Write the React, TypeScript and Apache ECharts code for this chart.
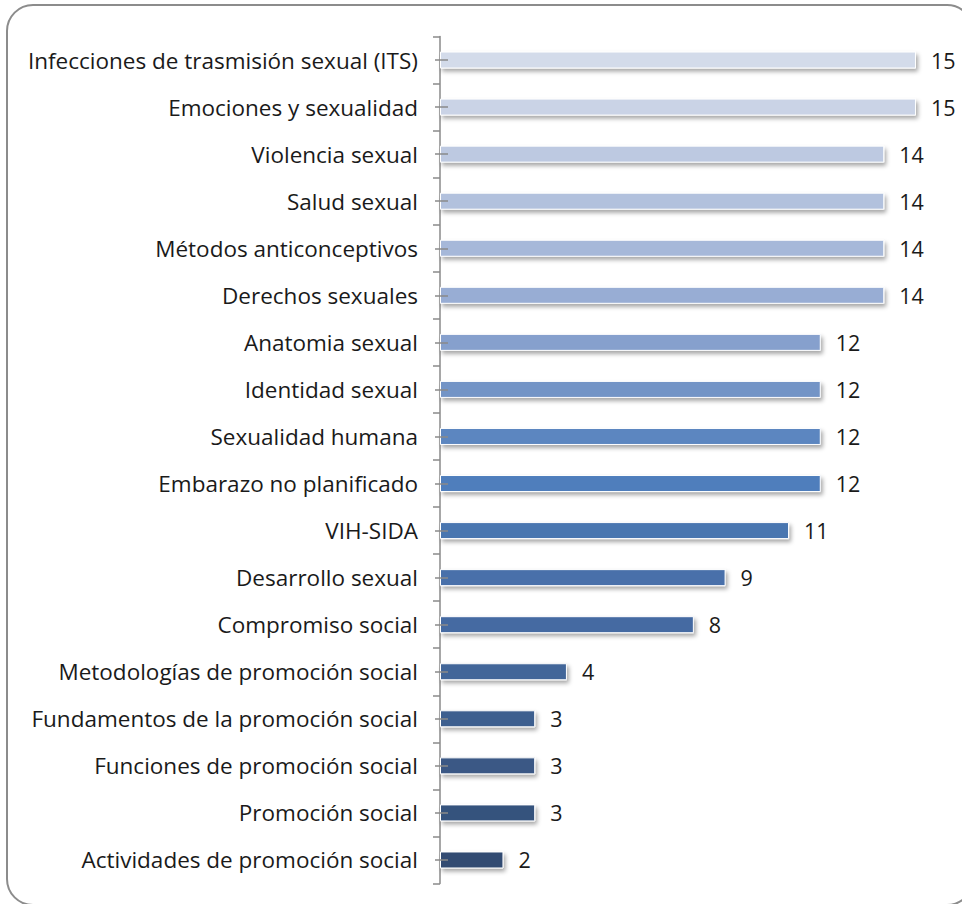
import React, { useEffect, useRef } from "react";
import * as echarts from "echarts";

const categories = [
  "Infecciones de trasmisión sexual (ITS)",
  "Emociones y sexualidad",
  "Violencia sexual",
  "Salud sexual",
  "Métodos anticonceptivos",
  "Derechos sexuales",
  "Anatomia sexual",
  "Identidad sexual",
  "Sexualidad humana",
  "Embarazo no planificado",
  "VIH-SIDA",
  "Desarrollo sexual",
  "Compromiso social",
  "Metodologías de promoción social",
  "Fundamentos de la promoción social",
  "Funciones de promoción social",
  "Promoción social",
  "Actividades de promoción social",
];

const values = [15, 15, 14, 14, 14, 14, 12, 12, 12, 12, 11, 9, 8, 4, 3, 3, 3, 2];

const barColors = [
  "#D3DBEA", "#CAD3E6", "#BDC9E1", "#B2C1DD", "#A6B8D9", "#98ADD4",
  "#86A0CD", "#7394C6", "#5C86C0", "#4F7EBC", "#4A76B0", "#4870AA",
  "#456AA2", "#426699", "#3E5F8F", "#3A5985", "#36537D", "#304B72",
];

const FONT = "'Open Sans', Lato, sans-serif";
const AXIS_COLOR = "#8a8a8a";

export default function App() {
  const ref = useRef<HTMLDivElement>(null);

  useEffect(() => {
    if (!ref.current) return;
    const chart = echarts.init(ref.current, undefined, { renderer: "svg" });
    const baseY = {
      type: "category" as const,
      data: categories,
      inverse: true,
      position: "left" as const,
    };
    chart.setOption({
      animation: false,
      backgroundColor: "#ffffff",
      graphic: [
        {
          type: "rect",
          shape: { x: 7, y: 5, width: 966, height: 900, r: 26 },
          style: { fill: "none", stroke: "#8c8c8c", lineWidth: 2 },
          z: -1,
        },
      ],
      grid: { left: 440, top: 36.5, height: 847, width: 507.7 },
      xAxis: { type: "value", min: 0, max: 16, show: false },
      yAxis: [
        {
          ...baseY,
          axisLine: { show: true, lineStyle: { color: AXIS_COLOR, width: 1.5 } },
          axisTick: { show: true, length: 7, lineStyle: { color: AXIS_COLOR, width: 1.5 } },
          axisLabel: { margin: 22, fontSize: 22.5, fontFamily: FONT, color: "#1a1a1a" },
          splitLine: { show: false },
        },
        {
          ...baseY,
          z: 10,
          axisLine: { show: false },
          axisLabel: { show: false },
          axisTick: {
            show: true,
            alignWithLabel: true,
            inside: true,
            length: 8,
            lineStyle: { color: AXIS_COLOR, width: 1.5 },
          },
        },
        {
          ...baseY,
          z: 10,
          axisLine: { show: false },
          axisLabel: { show: false },
          axisTick: {
            show: true,
            alignWithLabel: true,
            length: 5,
            lineStyle: { color: AXIS_COLOR, width: 1.5 },
          },
        },
      ],
      series: [
        {
          type: "bar",
          yAxisIndex: 0,
          data: values,
          barWidth: 17,
          itemStyle: {
            color: (p: any) => barColors[p.dataIndex],
            borderColor: "#ffffff",
            borderWidth: 1,
            shadowColor: "rgba(0,0,0,0.35)",
            shadowBlur: 4,
            shadowOffsetX: 2,
            shadowOffsetY: 3,
          },
          label: {
            show: true,
            position: "right",
            distance: 15,
            fontSize: 21.5,
            fontFamily: FONT,
            color: "#1a1a1a",
          },
        },
      ],
    });
    return () => chart.dispose();
  }, []);

  return (
    <div
      ref={ref}
      style={{ position: "fixed", left: 0, top: 0, width: 962, height: 904 }}
    />
  );
}
